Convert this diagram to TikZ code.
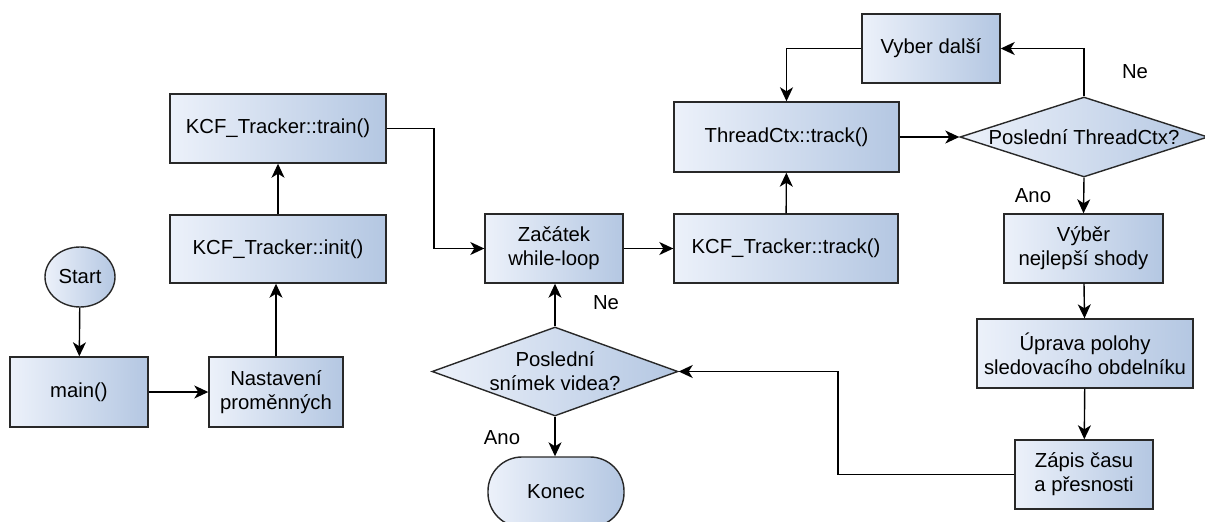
\documentclass[tikz,border=0pt]{standalone}
\usepackage{fontspec}
\setmainfont{Liberation Sans}
\usetikzlibrary{shapes.geometric,arrows.meta}
\definecolor{gl}{RGB}{236,241,250}
\definecolor{gd}{RGB}{180,199,226}
\definecolor{bd}{RGB}{40,40,40}
\begin{document}
\begin{tikzpicture}[x=1pt,y=-1pt,
  every node/.style={font=\fontsize{20.3}{24}\selectfont, text=black},
  shade/.style={left color=gl, right color=gd, draw=bd, line width=1.4pt},
  pbox/.style={shade, rectangle, inner sep=0pt, align=center, minimum height=69pt},
  dia/.style={shade, diamond, inner sep=0pt},
  term/.style={shade, rectangle, rounded corners=34pt, inner sep=0pt, minimum width=136pt, minimum height=70pt},
  conn/.style={draw=black, line width=1.4pt, -{Stealth[length=14pt,width=13pt,inset=4pt]}},
  lab/.style={font=\fontsize{20.3}{24}\selectfont}]
\clip (0,0) rectangle (1205,522);
\useasboundingbox (0,0) rectangle (1205,522);
% nodes
\node[shade, ellipse, minimum width=70pt, minimum height=60pt, inner sep=0pt] (start) at (80,277) {Start};
\node[pbox, minimum width=138pt, minimum height=70pt] (main) at (79,392) {main()};
\node[pbox, minimum width=134pt, minimum height=70pt] (nast) at (276,392) {Nastavení\\proměnných};
\node[pbox, minimum width=216pt, minimum height=68pt] (init) at (278,249) {KCF\_Tracker::init()};
\node[pbox, minimum width=216pt] (train) at (278,128.5) {KCF\_Tracker::train()};
\node[pbox, minimum width=138pt] (zac) at (554,248.5) {Začátek\\while-loop};
\node[pbox, minimum width=224pt] (ktrack) at (786,248.5) {KCF\_Tracker::track()};
\node[pbox, minimum width=225pt, minimum height=70pt] (tctx) at (786.5,137) {ThreadCtx::track()};
\node[pbox, minimum width=138pt] (vyber) at (931,48.5) {Vyber další};
\node[dia, minimum width=248pt, minimum height=80pt] (d1) at (1084,137) {};
\node at (d1) {Poslední ThreadCtx?};
\node[pbox, minimum width=159pt] (vyb) at (1083.5,248.5) {Výběr\\nejlepší shody};
\node[pbox, minimum width=216pt] (upr) at (1085,353.5) {Úprava polohy\\sledovacího obdelníku};
\node[pbox, minimum width=138pt] (zap) at (1084,474.5) {Zápis času\\a přesnosti};
\node[dia, minimum width=246pt, minimum height=89pt] (d2) at (555,371.5) {};
\node[align=center] at (d2) {Poslední\\snímek videa?};
\node[term] (konec) at (556,492) {Konec};
% labels
\node[lab] (ne1) at (1135,72) {Ne};
\node[lab] (ano1) at (1033,196) {Ano};
\node[lab] (ne2) at (606,303) {Ne};
\node[lab] (ano2) at (502,438) {Ano};
% helper coordinates
\coordinate (k1) at (434,0);
\coordinate (k2) at (838,0);
% connectors
\draw[conn] (start) -- (main);
\draw[conn] (main) -- (nast);
\draw[conn] (nast.north) -- (nast.north |- init.south);
\draw[conn] (init) -- (train);
\draw[conn] (train.east) -- (train.east -| k1) |- (zac.west);
\draw[conn] (zac) -- (ktrack);
\draw[conn] (ktrack) -- (tctx);
\draw[conn] (tctx) -- (d1.west);
\draw[conn] (d1.north) |- (vyber.east);
\draw[conn] (vyber.west) -| (tctx.north);
\draw[conn] (d1.south) -- (vyb.north);
\draw[conn] (vyb) -- (upr);
\draw[conn] (upr) -- (zap);
\draw[conn] (zap.west) -- (zap.west -| k2) -- (k2 |- d2.east) -- (d2.east);
\draw[conn] (d2.north) -- (d2.north |- zac.south);
\draw[conn] (d2.south) -- (d2.south |- konec.north);
\end{tikzpicture}
\end{document}
